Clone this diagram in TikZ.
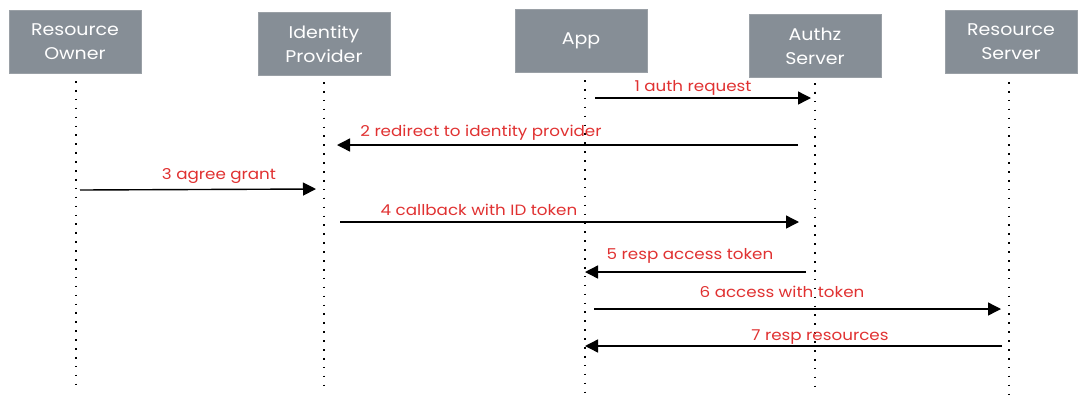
\documentclass[tikz,border=0pt]{standalone}
\usepackage{fontspec}
\setmainfont{Poppins}[FakeStretch=1.12]
\usetikzlibrary{arrows.meta}
\definecolor{boxgray}{HTML}{868E96}
\definecolor{boxedge}{HTML}{9AA0A6}
\definecolor{msgred}{HTML}{E03131}
\tikzset{
  actor/.style={draw=boxedge, line width=1pt, fill=boxgray, minimum width=132bp, minimum height=63bp,
    align=center, text=white, font=\fontsize{17}{24}\selectfont, inner sep=0pt},
  lifeline/.style={line width=1.6bp, dash pattern=on 1.6bp off 7.3bp, black},
  msg/.style={line width=1.4bp, black, -{Triangle[length=13bp,width=13bp]}},
  msglabel/.style={text=msgred, font=\fontsize{15}{17}\selectfont, inner sep=0pt, anchor=base}
}
\begin{document}
\begin{tikzpicture}[x=1bp,y=-1bp]
\useasboundingbox (0,0) rectangle (1088,402);
% actors
\node[actor] (ro) at (75,42) {Resource\\Owner};
\node[actor] (ip) at (324,44) {Identity\\Provider};
\node[actor] (app) at (581,41) {App};
\node[actor] (az) at (815,46) {Authz\\Server};
\node[actor] (rs) at (1011,42) {Resource\\Server};
% lifelines
\coordinate (roT) at (76,81); \coordinate (roB) at (76,392);
\coordinate (ipT) at (324,82); \coordinate (ipB) at (324,392);
\coordinate (appT) at (585,80); \coordinate (appB) at (585,392);
\coordinate (azT) at (815,83); \coordinate (azB) at (815,393);
\coordinate (rsT) at (1009,82); \coordinate (rsB) at (1009,396);
\draw[lifeline] (roT) -- (roB);
\draw[lifeline] (ipT) -- (ipB);
\draw[lifeline] (appT) -- (appB);
\draw[lifeline] (azT) -- (azB);
\draw[lifeline] (rsT) -- (rsB);
% message endpoints
\coordinate (m1a) at (595,98);  \coordinate (m1b) at (811,98);
\coordinate (m2a) at (798,145); \coordinate (m2b) at (337,145);
\coordinate (m3a) at (80,190);  \coordinate (m3b) at (316,189);
\coordinate (m4a) at (340,222); \coordinate (m4b) at (799,222);
\coordinate (m5a) at (806,272); \coordinate (m5b) at (585,272);
\coordinate (m6a) at (594,309); \coordinate (m6b) at (1001,309);
\coordinate (m7a) at (1002,346); \coordinate (m7b) at (585,346);
% messages
\draw[msg] (m1a) -- (m1b);
\draw[msg] (m2a) -- (m2b);
\draw[msg] (m3a) -- (m3b);
\draw[msg] (m4a) -- (m4b);
\draw[msg] (m5a) -- (m5b);
\draw[msg] (m6a) -- (m6b);
\draw[msg] (m7a) -- (m7b);
% labels
\node[msglabel] (l1) at (693,91) {1 auth request};
\node[msglabel] (l2) at (481,136) {2 redirect to identity provider};
\node[msglabel] (l3) at (219,179) {3 agree grant};
\node[msglabel] (l4) at (479,215) {4 callback with ID token};
\node[msglabel] (l5) at (690,259) {5 resp access token};
\node[msglabel] (l6) at (782,297) {6 access with token};
\node[msglabel] (l7) at (820,340) {7 resp resources};
\end{tikzpicture}
\end{document}
